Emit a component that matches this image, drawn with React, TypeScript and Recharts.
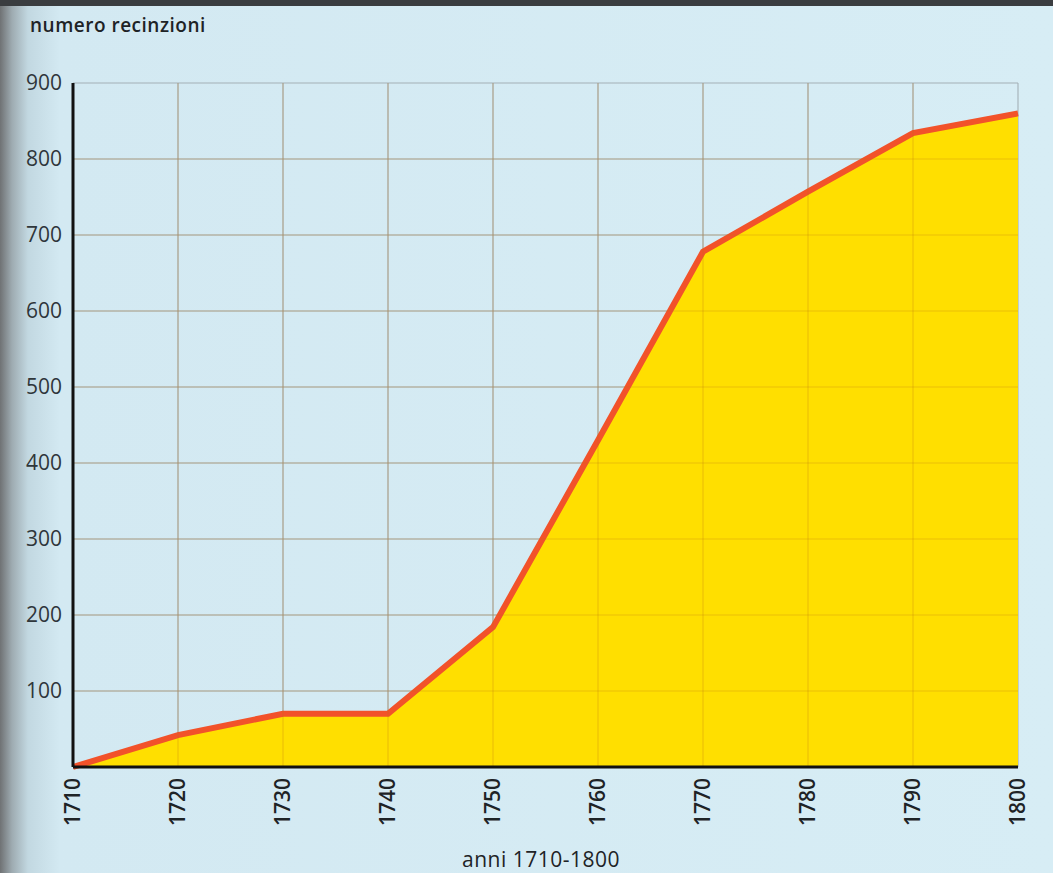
import React from "react";
import { AreaChart, Area, XAxis, YAxis, CartesianGrid, ReferenceLine } from "recharts";

const years = [1710, 1720, 1730, 1740, 1750, 1760, 1770, 1780, 1790, 1800];
const enclosures = [0, 42, 70, 70, 184, 430, 678, 757, 834, 860];
const yTicks = [100, 200, 300, 400, 500, 600, 700, 800, 900];
const xTicks = years;
const yTitle = "numero recinzioni";
const xTitle = "anni 1710-1800";

const data = years.map((y, i) => ({ year: y, value: enclosures[i] }));

const FONT = "'Open Sans', 'Noto Sans', sans-serif";

const XTick = (props: any) => {
  const { x, y, payload } = props;
  const bx = x + 7;
  const by = y + 3;
  return (
    <text
      x={bx}
      y={by}
      transform={`rotate(-90, ${bx}, ${by})`}
      textAnchor="end"
      fontFamily={FONT}
      fontSize={21}
      fontWeight={600}
      fill="#1e2326"
    >
      {payload.value}
    </text>
  );
};

export default function App() {
  return (
    <div
      style={{
        position: "absolute",
        left: 0,
        top: 0,
        width: 1053,
        height: 873,
        background:
          "linear-gradient(to right, #6f7274 0px, #9eabb1 12px, #c2d8e1 28px, #d3e9f2 60px, #d7edf5 100%)",
        overflow: "hidden",
      }}
    >
      <div style={{ position: "absolute", left: 0, top: 0, width: 1053, height: 6, background: "#3a3d40" }} />
      <div
        style={{
          position: "absolute",
          left: 30,
          top: 12,
          fontFamily: FONT,
          fontSize: 19,
          fontWeight: 600,
          letterSpacing: 0.5,
          color: "#1e2326",
          whiteSpace: "nowrap",
        }}
      >
        {yTitle}
      </div>
      <div
        style={{
          position: "absolute",
          left: 0,
          width: 1082,
          top: 848,
          height: 22,
          lineHeight: "22px",
          textAlign: "center",
          fontFamily: FONT,
          fontSize: 21,
          fontWeight: 500,
          letterSpacing: 0.5,
          color: "#1e2326",
          whiteSpace: "nowrap",
        }}
      >
        {xTitle}
      </div>
      <AreaChart
        width={1053}
        height={873}
        data={data}
        margin={{ top: 83, right: 35, left: 0, bottom: 0 }}
        style={{ position: "absolute", left: 0, top: 0 }}
      >
        <CartesianGrid stroke="#a3b0b6" strokeWidth={1.1} horizontalValues={yTicks} verticalValues={xTicks} />
        <XAxis
          dataKey="year"
          type="number"
          domain={[1710, 1800]}
          ticks={xTicks}
          height={106}
          axisLine={{ stroke: "#111", strokeWidth: 3 }}
          tickLine={false}
          tick={<XTick />}
          interval={0}
        />
        <YAxis
          type="number"
          domain={[0, 900]}
          ticks={yTicks}
          width={73}
          axisLine={{ stroke: "#111", strokeWidth: 3 }}
          tickLine={false}
          tickMargin={5}
          interval={0}
          tick={{ fontFamily: FONT, fontSize: 21, fill: "#2f363a" }}
        />
        <Area
          type="linear"
          dataKey="value"
          stroke="#f2522a"
          strokeWidth={6}
          fill="#ffdf00"
          fillOpacity={1}
          isAnimationActive={false}
          dot={false}
          activeDot={false}
        />
        {yTicks.slice(0, 8).map((t) => (
          <ReferenceLine key={"h" + t} y={t} stroke="rgba(190,120,20,0.3)" strokeWidth={1.1} />
        ))}
        {xTicks.slice(1, 9).map((t) => (
          <ReferenceLine key={"v" + t} x={t} stroke="rgba(190,120,20,0.3)" strokeWidth={1.1} />
        ))}
      </AreaChart>
    </div>
  );
}
